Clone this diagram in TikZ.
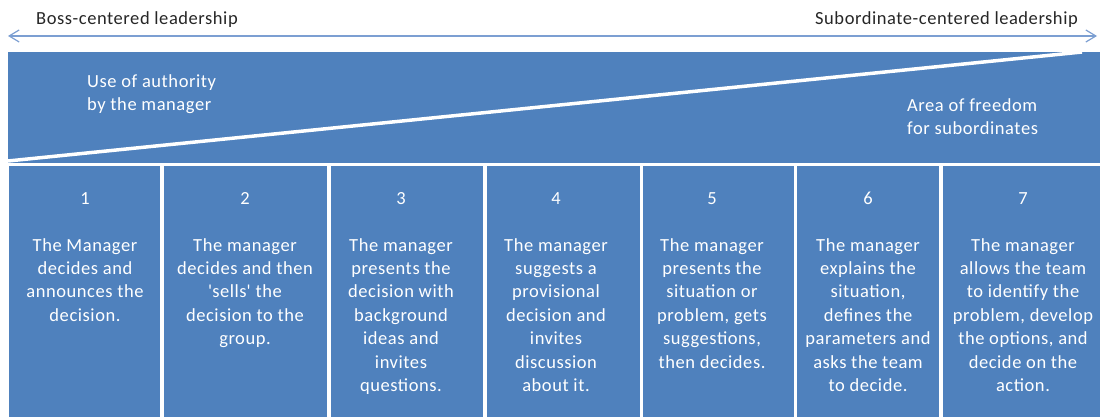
\documentclass[tikz,border=0pt]{standalone}
\usepackage{fontspec}
\setmainfont[LetterSpace=3]{Carlito}
\usetikzlibrary{arrows.meta}
\definecolor{boxblue}{HTML}{4F81BD}
\definecolor{arrowblue}{HTML}{7C9FD2}
\definecolor{darktext}{HTML}{262626}
\begin{document}
\begin{tikzpicture}[x=1pt,y=-1pt,
  panel/.style={fill=boxblue, draw=none, inner sep=0, anchor=north west},
  numlabel/.style={text=white, font=\fontsize{18.5}{23.4}\selectfont, anchor=base, inner sep=0},
  desc/.style={text=white, font=\fontsize{18.5}{23.4}\selectfont, align=center, anchor=north, inner sep=0},
  arealabel/.style={text=white, font=\fontsize{18.5}{23}\selectfont, align=left, anchor=north west, inner sep=0},
  toplabel/.style={text=darktext, font=\fontsize{18.5}{23}\selectfont, inner sep=0},
  scalearrow/.style={draw=arrowblue, line width=1.2pt,
    {Straight Barb[length=10pt,width=12pt]}-{Straight Barb[length=10pt,width=12pt]}}
]
\useasboundingbox (0,0) rectangle (1100,417);

% top scale
\node[toplabel, anchor=base west] (boss) at (36,25) {Boss-centered leadership};
\node[toplabel, anchor=base east] (sub) at (1078,25) {Subordinate-centered\ leadership};
\coordinate (arrL) at (8,36);
\coordinate (arrR) at (1097,36);
\draw[scalearrow] (arrL) -- (arrR);

% authority / freedom area
\node[panel, minimum width=1092pt, minimum height=111pt] (area) at (8,52) {};
\begin{scope}
  \clip (8,52) rectangle (1100,163);
  \coordinate (diagA) at (8,161);
  \coordinate (diagB) at (1082,52);
  \draw[white, line width=3.5pt] (diagA) -- (diagB);
\end{scope}
\node[arealabel] (auth) at (87,74) {Use of authority\\by the manager};
\node[arealabel] (free) at (907,98.5) {Area of freedom\\for subordinates};

% columns
\node[panel, minimum width=151pt, minimum height=251pt] (b1) at (9,166) {};
\node[panel, minimum width=163pt, minimum height=251pt] (b2) at (164,166) {};
\node[panel, minimum width=152pt, minimum height=251pt] (b3) at (331,166) {};
\node[panel, minimum width=153pt, minimum height=251pt] (b4) at (487,166) {};
\node[panel, minimum width=151pt, minimum height=251pt] (b5) at (643,166) {};
\node[panel, minimum width=142pt, minimum height=251pt] (b6) at (797,166) {};
\node[panel, minimum width=157pt, minimum height=251pt] (b7) at (943,166) {};

\node[numlabel] (n1) at (85,204) {1};
\node[numlabel] (n2) at (245,204) {2};
\node[numlabel] (n3) at (401,204) {3};
\node[numlabel] (n4) at (556,204) {4};
\node[numlabel] (n5) at (712,204) {5};
\node[numlabel] (n6) at (868,204) {6};
\node[numlabel] (n7) at (1023,204) {7};

\node[desc] (t1) at (85,238) {The Manager\\decides and\\announces the\\decision.};
\node[desc] (t2) at (245,238) {The manager\\decides and then\\\textquotesingle sells\textquotesingle\ the\\decision to the\\group.};
\node[desc] (t3) at (401,238) {The manager\\presents the\\decision with\\background\\ideas and\\invites\\questions.};
\node[desc] (t4) at (556,238) {The manager\\suggests a\\provisional\\decision and\\invites\\discussion\\about it.};
\node[desc] (t5) at (712,238) {The manager\\presents the\\situation or\\problem,\ gets\\suggestions,\\then decides.};
\node[desc] (t6) at (868,238) {The manager\\explains the\\situation,\\defines the\\parameters and\\asks the team\\to decide.};
\node[desc] (t7) at (1023,238) {The manager\\allows the team\\to identify the\\problem,\ develop\\the options, and\\decide on the\\action.};
\end{tikzpicture}
\end{document}
